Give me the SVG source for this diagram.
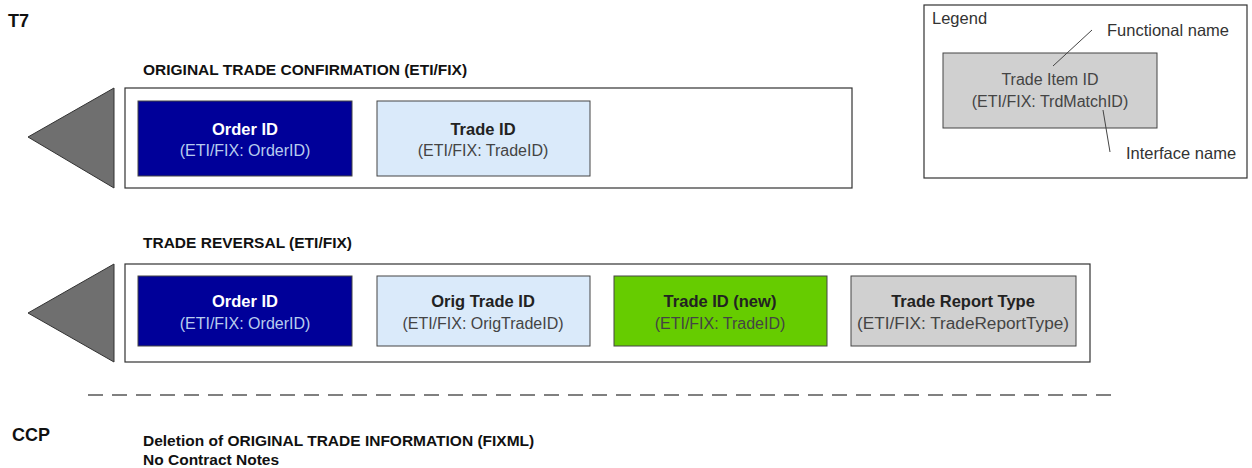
<svg xmlns="http://www.w3.org/2000/svg" width="1252" height="468" viewBox="0 0 1252 468">
<style>
text{font-family:"Liberation Sans",Arial,sans-serif;}
.hdr{font-size:15.5px;font-weight:bold;fill:#111;}
.lbl{font-size:18px;font-weight:bold;fill:#111;}
.frame{fill:#fff;stroke:#333;stroke-width:1.2;}
.tri{fill:#6f6f6f;stroke:#333;stroke-width:1;}
.box{stroke:#444;stroke-width:1;}
.t1{font-size:16.5px;font-weight:bold;text-anchor:middle;}
.t2{font-size:16px;text-anchor:middle;}
.dark{fill:#000099;}
.light{fill:#DAEAFA;}
.green{fill:#66CC00;}
.gray{fill:#D0D0D0;}
.wt{fill:#fff;}
.wt2{fill:#B8CCEE;}
.bt{fill:#222;}
.bt2{fill:#444;}
.leg{font-size:16.5px;fill:#333;}
</style>
<text class="lbl" x="8" y="27">T7</text>
<text class="lbl" x="12" y="441">CCP</text>
<text class="hdr" x="143" y="75">ORIGINAL TRADE CONFIRMATION (ETI/FIX)</text>
<text class="hdr" x="143" y="248">TRADE REVERSAL (ETI/FIX)</text>
<text class="hdr" x="143" y="446">Deletion of ORIGINAL TRADE INFORMATION (FIXML)</text>
<text class="hdr" x="143" y="465">No Contract Notes</text>

<g id="row1">
<polygon class="tri" points="28,137 114,88 114,188"/>
<rect class="frame" x="125" y="88" width="727" height="100"/>
</g>
<g id="n-orderid1">
<rect class="box dark" x="138" y="101" width="214" height="75"/>
<text class="t1 wt" x="245" y="135">Order ID</text>
<text class="t2 wt2" x="245" y="156">(ETI/FIX: OrderID)</text>
</g>
<g id="n-tradeid1">
<rect class="box light" x="377" y="101" width="213" height="75"/>
<text class="t1 bt" x="483" y="135">Trade ID</text>
<text class="t2 bt2" x="483" y="156">(ETI/FIX: TradeID)</text>
</g>

<g id="row2">
<polygon class="tri" points="28,313 114,264 114,362"/>
<rect class="frame" x="125" y="264" width="965" height="98"/>
</g>
<g id="n-orderid2">
<rect class="box dark" x="138" y="276" width="214" height="70"/>
<text class="t1 wt" x="245" y="307">Order ID</text>
<text class="t2 wt2" x="245" y="329">(ETI/FIX: OrderID)</text>
</g>
<g id="n-origtradeid">
<rect class="box light" x="377" y="276" width="213" height="70"/>
<text class="t1 bt" x="483" y="307">Orig Trade ID</text>
<text class="t2 bt2" x="483" y="329">(ETI/FIX: OrigTradeID)</text>
</g>
<g id="n-tradeidnew">
<rect class="box green" x="614" y="276" width="213" height="70"/>
<text class="t1 bt" x="720" y="307">Trade ID (new)</text>
<text class="t2 bt2" x="720" y="329">(ETI/FIX: TradeID)</text>
</g>
<g id="n-tradereporttype">
<rect class="box gray" x="851" y="276" width="225" height="70"/>
<text class="t1 bt" x="963" y="307">Trade Report Type</text>
<text class="t2 bt2" x="963" y="329" textLength="212" lengthAdjust="spacingAndGlyphs">(ETI/FIX: TradeReportType)</text>
</g>

<g id="legend">
<rect class="frame" x="924" y="5" width="323" height="173" stroke-width="1"/>
<text class="leg" x="932" y="24">Legend</text>
<text class="leg" x="1107" y="36">Functional name</text>
<text class="leg" x="1126" y="159">Interface name</text>
</g>
<g id="legend-sample">
<rect class="box gray" x="943" y="53" width="214" height="75"/>
<text class="t2 bt2" x="1050" y="85">Trade Item ID</text>
<text class="t2 bt2" x="1050" y="107">(ETI/FIX: TrdMatchID)</text>
</g>

<g id="connectors">
<line x1="88" y1="395" x2="1118" y2="395" stroke="#808080" stroke-width="2" stroke-dasharray="15,9"/>
<line x1="1092" y1="30" x2="1053" y2="66" stroke="#444" stroke-width="1"/>
<line x1="1103" y1="110" x2="1110" y2="152" stroke="#444" stroke-width="1"/>
</g>
</svg>
